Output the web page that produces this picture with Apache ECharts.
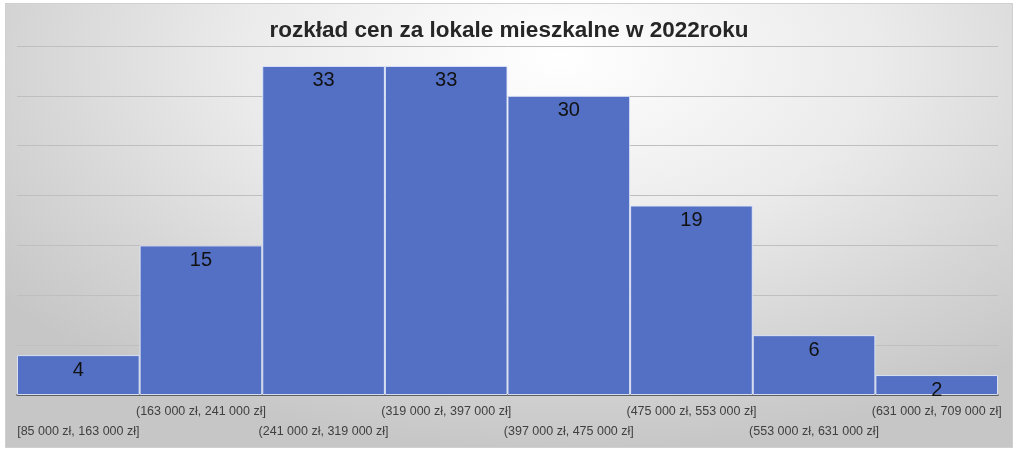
<!DOCTYPE html>
<html>
<head>
<meta charset="utf-8">
<script src="https://cdn.jsdelivr.net/npm/echarts@6/dist/echarts.min.js"></script>
<style>
  html, body { margin: 0; padding: 0; background: #ffffff; width: 1024px; height: 454px; overflow: hidden; }
  #chart {
    position: absolute; left: 5px; top: 3px; width: 1008px; height: 445px;
    box-sizing: border-box; border: 1px solid #d0d0d0;
    background: radial-gradient(ellipse 70% 90% at 55% 12%, #ffffff 0%, #ebebeb 45%, #d6d6d6 75%, #c6c6c6 100%);
  }
</style>
</head>
<body>
<div id="chart"></div>
<script>
const titleText = 'rozkład cen za lokale mieszkalne w 2022roku';
const categories = [
  '[85 000 zł, 163 000 zł]',
  '(163 000 zł, 241 000 zł]',
  '(241 000 zł, 319 000 zł]',
  '(319 000 zł, 397 000 zł]',
  '(397 000 zł, 475 000 zł]',
  '(475 000 zł, 553 000 zł]',
  '(553 000 zł, 631 000 zł]',
  '(631 000 zł, 709 000 zł]'
];
const counts = [4, 15, 33, 33, 30, 19, 6, 2];

const chart = echarts.init(document.getElementById('chart'), null, { renderer: 'canvas' });
chart.setOption({
  backgroundColor: 'transparent',
  animation: false,
  title: {
    text: titleText,
    left: 'center',
    top: 10,
    textStyle: { fontFamily: 'Liberation Sans, Arial, sans-serif', fontSize: 22.5, fontWeight: 'bold', color: '#262626' }
  },
  grid: { left: 11, right: 14, top: 42, bottom: 52, containLabel: false },
  xAxis: {
    type: 'category',
    data: categories,
    axisTick: { show: false },
    axisLine: { lineStyle: { color: '#404040', width: 1.5 } },
    axisLabel: {
      interval: 0,
      margin: 7,
      fontFamily: 'Liberation Sans, Arial, sans-serif',
      fontSize: 12.5,
      color: '#404040',
      lineHeight: 20,
      formatter: function (v, i) { return i % 2 === 0 ? '\n' + v : v; }
    }
  },
  yAxis: {
    type: 'value',
    min: 0,
    max: 35,
    interval: 5,
    axisLabel: { show: false },
    axisLine: { show: false },
    axisTick: { show: false },
    splitLine: { lineStyle: { color: '#bfbfbf', width: 1 } }
  },
  series: [{
    type: 'bar',
    data: counts,
    barCategoryGap: '0%',
    itemStyle: { color: '#5470c4', borderColor: 'rgba(225,232,248,0.9)', borderWidth: 1 },
    label: {
      show: true,
      position: 'insideTop',
      distance: 5,
      fontFamily: 'Liberation Sans, Arial, sans-serif',
      fontSize: 20,
      color: '#111111'
    }
  }]
});
</script>
</body>
</html>
